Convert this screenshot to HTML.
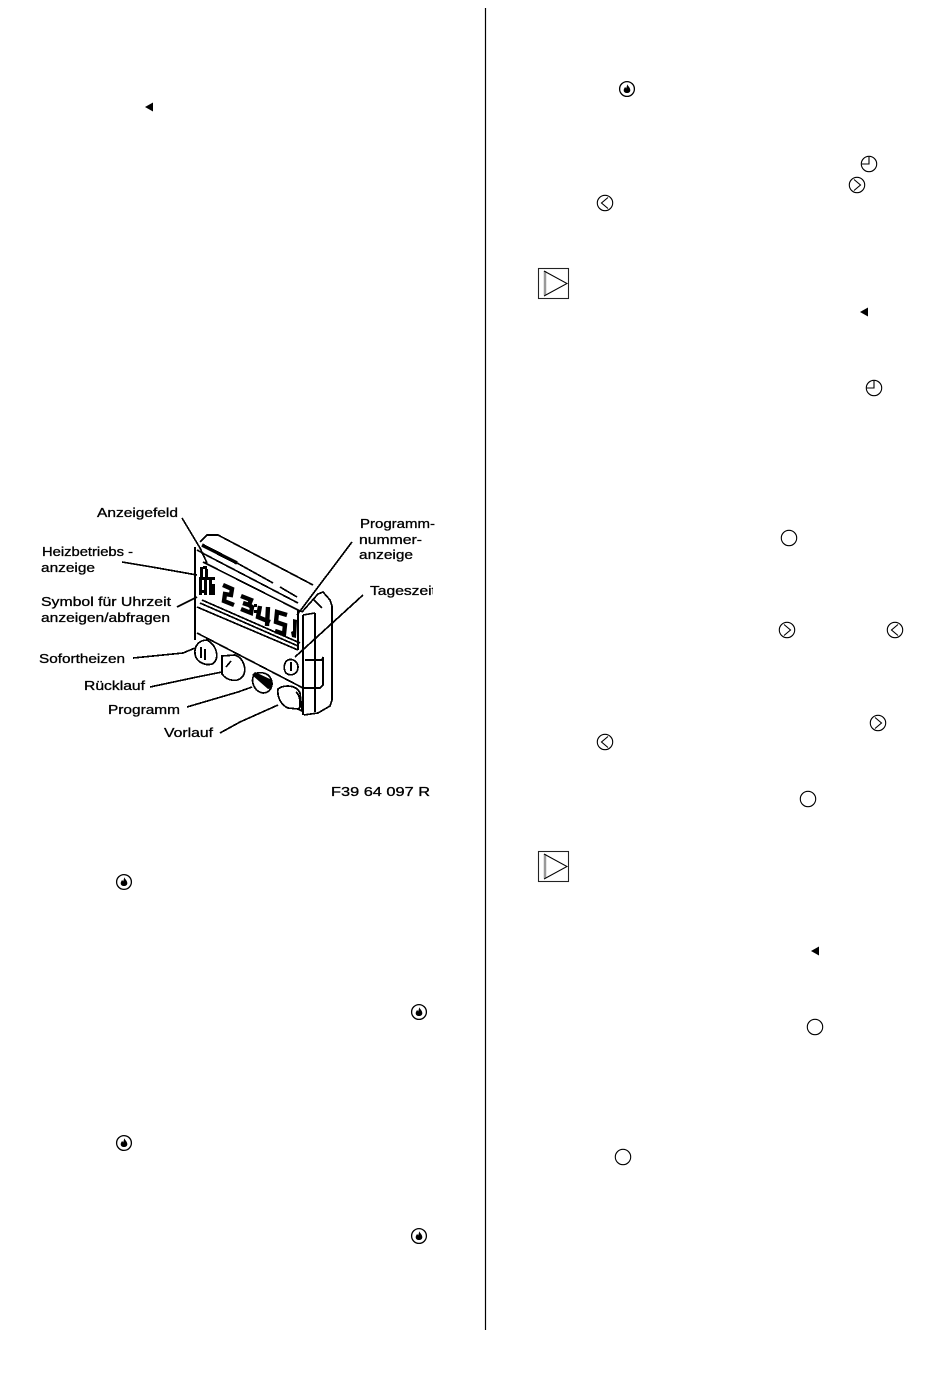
<!DOCTYPE html>
<html><head><meta charset="utf-8"><style>
html,body{margin:0;padding:0;background:#fff}
svg{display:block}
text{font-family:"Liberation Sans",sans-serif;font-size:13px;fill:#000;stroke:#000;stroke-width:.3px}
</style></head><body>
<svg width="950" height="1388" viewBox="0 0 950 1388" xmlns="http://www.w3.org/2000/svg">
<defs>
<clipPath id="tz"><rect x="360" y="575" width="73" height="30"/></clipPath>
<g id="flame"><circle r="7.400" fill="#fff" stroke="#000" stroke-width="1.300"/><path d="M.3-4.800C.8-3 3.300-1.500 3.300 1.200 3.300 3.200 1.600 4 0 4S-3.300 3.200-3.300 1.200C-3.300-.3-2.400-.8-2-2-1.400-1.400-1-1-.8-.6-.4-2 0-3.300.3-4.800Z" fill="#000"/></g>
<g id="clock"><circle r="7.700" fill="#fff" stroke="#000" stroke-width="1.100"/><path d="M0-7.200V0H-7.200" fill="none" stroke="#000" stroke-width="1.100"/></g>
<g id="right"><circle r="7.700" fill="#fff" stroke="#000" stroke-width="1.100"/><path d="M-3-5.500L3.500 0-3 5.500" fill="none" stroke="#000" stroke-width="1.100"/></g>
<g id="left"><circle r="7.700" fill="#fff" stroke="#000" stroke-width="1.100"/><path d="M3-5.500L-3.500 0 3 5.500" fill="none" stroke="#000" stroke-width="1.100"/></g>
<g id="ring"><circle r="7.700" fill="#fff" stroke="#000" stroke-width="1.100"/></g>
<g id="tri"><path d="M0-4.500V4.500L-8 0Z" fill="#000"/></g>
<g id="play"><rect x=".5" y=".5" width="30" height="30" fill="#fff" stroke="#222" stroke-width="1.100"/><path d="M7 3V27" stroke="#999" stroke-width="2.500"/><path d="M6 3L29 15.500 6 28" fill="none" stroke="#000" stroke-width="1"/></g>
</defs>
<path d="M485.500 8V1330" stroke="#000" stroke-width="1.200"/>

<use href="#tri" x="153" y="107"/>
<use href="#flame" x="124" y="882"/>
<use href="#flame" x="419" y="1012"/>
<use href="#flame" x="124" y="1143"/>
<use href="#flame" x="419" y="1236"/>

<use href="#flame" x="627" y="89"/>
<use href="#clock" x="869" y="164"/>
<use href="#right" x="857" y="185"/>
<use href="#left" x="605" y="203"/>
<use href="#play" x="538" y="268"/>
<use href="#tri" x="868" y="312"/>
<use href="#clock" x="874" y="388"/>
<use href="#ring" x="789" y="538"/>
<use href="#right" x="787" y="630"/>
<use href="#left" x="895" y="630"/>
<use href="#right" x="878" y="723"/>
<use href="#left" x="605" y="742"/>
<use href="#ring" x="808" y="799"/>
<use href="#play" x="538" y="851"/>
<use href="#tri" x="819" y="951"/>
<use href="#ring" x="815" y="1027"/>
<use href="#ring" x="623" y="1157"/>

<text x="97" y="517" textLength="81" lengthAdjust="spacingAndGlyphs">Anzeigefeld</text>
<text x="42" y="556" textLength="91" lengthAdjust="spacingAndGlyphs">Heizbetriebs -</text>
<text x="41" y="572" textLength="54" lengthAdjust="spacingAndGlyphs">anzeige</text>
<text x="41" y="606" textLength="130" lengthAdjust="spacingAndGlyphs">Symbol für Uhrzeit</text>
<text x="41" y="622" textLength="129" lengthAdjust="spacingAndGlyphs">anzeigen/abfragen</text>
<text x="39" y="663" textLength="86" lengthAdjust="spacingAndGlyphs">Sofortheizen</text>
<text x="84" y="690" textLength="61" lengthAdjust="spacingAndGlyphs">Rücklauf</text>
<text x="108" y="714" textLength="72" lengthAdjust="spacingAndGlyphs">Programm</text>
<text x="164" y="737" textLength="49" lengthAdjust="spacingAndGlyphs">Vorlauf</text>
<text x="360" y="528" textLength="75" lengthAdjust="spacingAndGlyphs">Programm-</text>
<text x="359" y="544" textLength="63" lengthAdjust="spacingAndGlyphs">nummer-</text>
<text x="359" y="559" textLength="54" lengthAdjust="spacingAndGlyphs">anzeige</text>
<g clip-path="url(#tz)"><text x="370" y="595" textLength="66" lengthAdjust="spacingAndGlyphs">Tageszeit</text></g>
<text x="331" y="796" textLength="99" lengthAdjust="spacingAndGlyphs">F39 64 097 R</text>

<g fill="none" stroke="#000" stroke-width="1.700" shape-rendering="crispEdges">
<path d="M182 518L200 548 207 563"/>
<path d="M122 562L152 567 197 575"/>
<path d="M177 607L197 597"/>
<path d="M133 658L183 653 195 648"/>
<path d="M150 687L197 677 222 672"/>
<path d="M187 707L238 692 252 687"/>
<path d="M220 733L240 722 278 705"/>
<path d="M352 542L297 615"/>
<path d="M363 595L295 657"/>
<path d="M195 547V640"/>
<path d="M200 542L207 535 218 535 313 585"/>
<path d="M202 545L237 563" stroke-width="3.400"/>
<path d="M237 563L273 583M280 587L297 597"/>
<path d="M197 550L208 556 298 603"/>
<path d="M203 562L298 610 303 612"/>
<path d="M302 612L318 594 323 592 330 600 332 606V700L330 706 318 713 304 715"/>
<path d="M303 615L315 613"/>
<path d="M303 615V715"/>
<path d="M315 613V712"/>
<path d="M314 600L322 608"/>
<path d="M202 600L300 643"/>
<path d="M200 603L298 646"/>
<path d="M197 607L298 650"/>
<path d="M298 610V650"/>
<path d="M197 633L303 688"/>
<path d="M305 660H322L323 657V685L320 688H303"/>
<path d="M207 640C199 640 194 646 195 654 196 662 205 666 212 664 219 661 219 647 207 640Z"/>
<path d="M205 649V660M201 647V658"/>
<path d="M222 656L235 655C244 658 247 670 243 676 238 683 227 681 222 674Z"/>
<path d="M231 661L226 667"/>
<path d="M288 660C293 658 298 662 298 667 298 674 291 677 286 673 283 669 284 662 288 660Z"/>
<path d="M291 662V671"/>
<path d="M278 689C283 685 296 684 300 693L302 711 298 709 288 708C281 705 277 697 278 689Z"/>
<path d="M296 692C300 695 301 704 299 709"/>
<path d="M254 675C258 671 268 672 271 679 274 686 270 693 263 693 255 692 250 682 254 675Z"/>
</g>
<path d="M252 675L255 672 272 680 272 688 268 689Z" fill="#000"/>

<g fill="#000">
<path d="M200 567h3v10h-3zM203 566h4v3h-4zM205 569h3v8h-3zM199 577h16v3h-16zM199 580h3v15h-3zM204 580h3v15h-3zM209 580h3v4h3v11h-6zM202 590h2v3h-2z"/>
<g stroke="#000" stroke-width="4.400" fill="none" stroke-linejoin="miter">
<path d="M223 585L232 589 231 595 225 594 224 601 234 605"/>
<path d="M241 596L251 600 249 605 243 603M249 605L252 607 251 613 241 609"/>
<path d="M260 606L258 617 270 622M268 607L267 626"/>
<path d="M287 615L277 612 276 622 285 625 284 634 275 631"/>
</g>
<path d="M254 604h3v3h-3zM254 610h3v3h-3z"/>
<path d="M293 619l4 1-1 18-4-1-1-5 2-1z"/>
</g>
</svg>
</body></html>
